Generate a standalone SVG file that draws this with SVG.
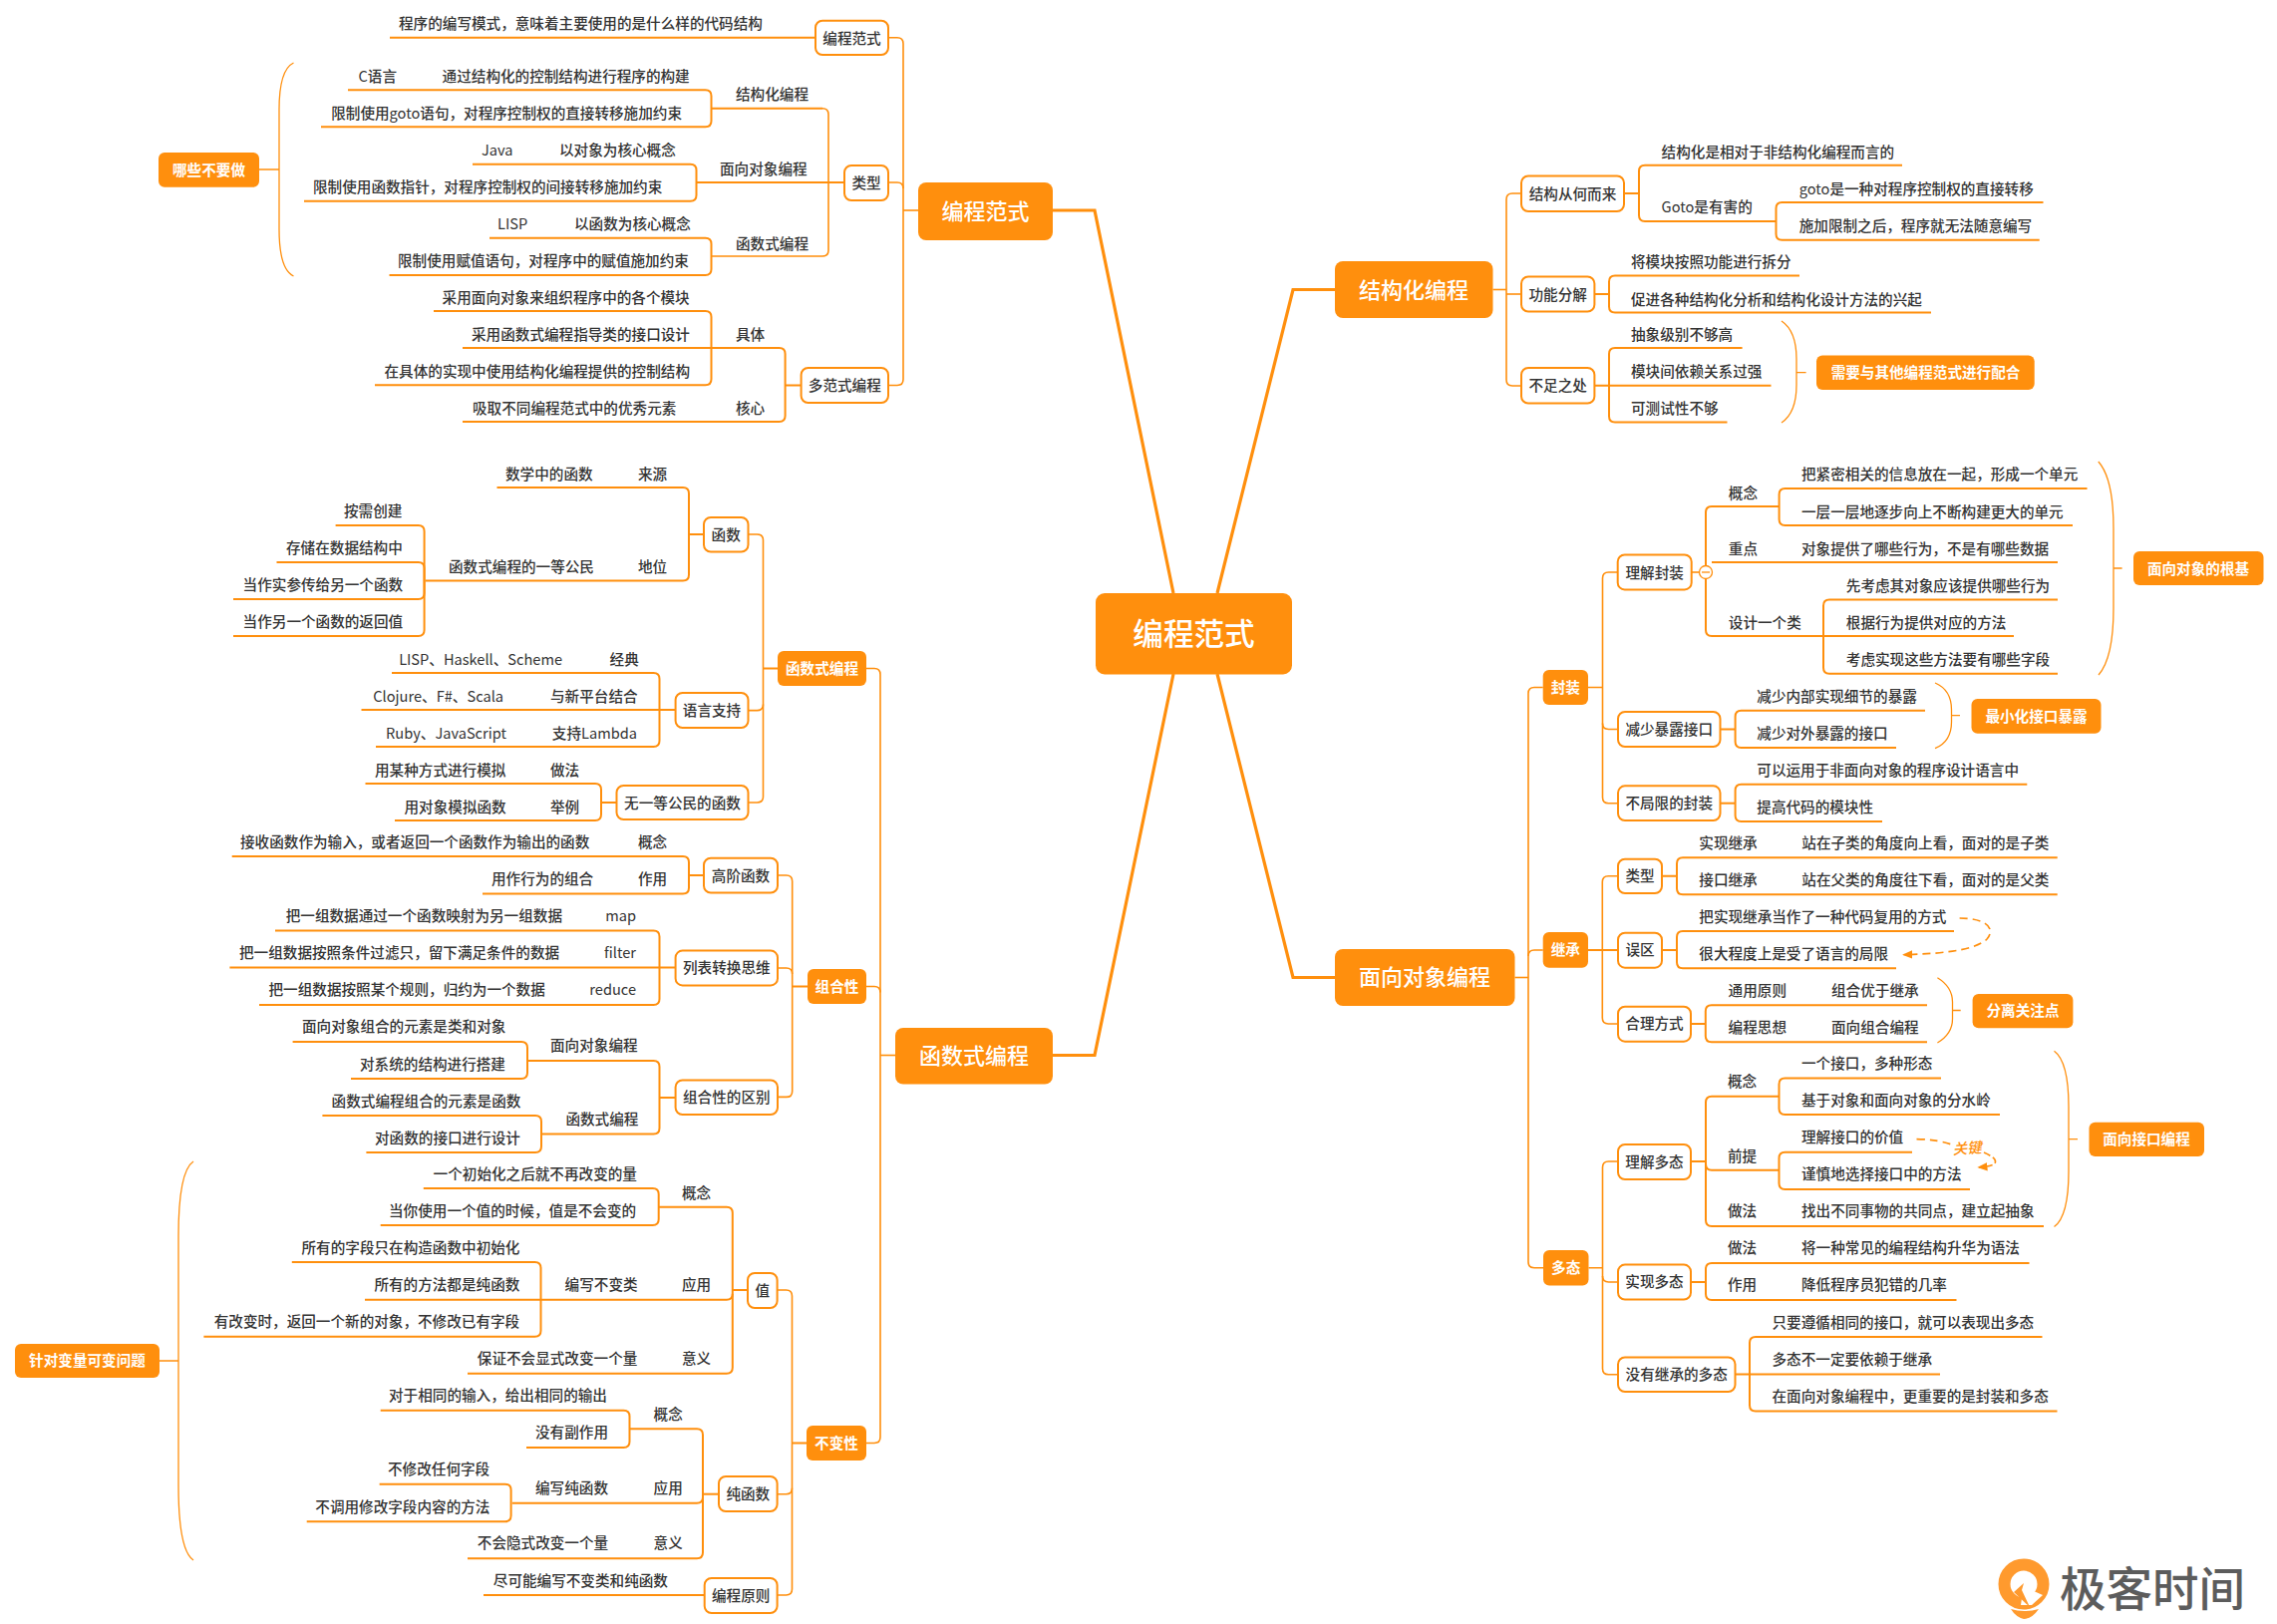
<svg xmlns="http://www.w3.org/2000/svg" width="2284" height="1629" viewBox="0 0 2284 1629">
<defs>
<marker id="ah" markerWidth="7" markerHeight="7" refX="5" refY="3" orient="auto"><path class="a" d="M0 0.5L6 3L0 5.5Z"/></marker>
</defs>
<style>
text{font-family:"Noto Sans CJK SC","Noto Sans",sans-serif;font-size:14.6px;fill:#333;font-weight:500}
tspan.L{font-weight:400}
.w{fill:#fff;font-weight:700}
.big{fill:#fff;font-size:22px;font-weight:500}
.root{fill:#fff;font-size:30.6px;font-weight:500}
path,line,circle{fill:none}
.a{fill:#ff8f0d;stroke:none}
.o{fill:#fff;stroke:#ff8f0d;stroke-width:2}
#connectors path{stroke:#ff8f0d;stroke-width:2}
#connectors .t{stroke-width:3.2}
#connectors .m{stroke-width:1.6}
#connectors .n{stroke-width:1.3}
#connectors .d{stroke-width:1.7;stroke-dasharray:8 5}
</style>
<rect width="2284" height="1629" fill="#fff"/>
<g id="connectors">
<!-- root -->
<path class="t" d="M1177 595L1098 211H1056"/>
<path class="t" d="M1221 595L1297 290.5H1339"/>
<path class="t" d="M1177 676L1098 1058.5H1056"/>
<path class="t" d="M1221 676L1297 980.5H1339"/>
<!-- 编程范式 branch -->
<path class="m" d="M921 211H906"/>
<path class="m" d="M891 37.7H900Q906 37.7 906 43.7V380.5Q906 386.5 900 386.5H891"/>
<path class="m" d="M891 183H900Q906 183 906 189"/>
<path d="M818 37.7H391"/>
<path class="m" d="M825 108.7Q831 108.7 831 114.7V251Q831 257 825 257H714"/>
<path d="M714 108.7H825"/>
<path d="M847 183H698.5"/>
<path d="M349 90.3H707.5Q713.5 90.3 713.5 96.3V121.3Q713.5 127.3 707.5 127.3H322"/>
<path d="M474 164.7H692.5Q698.5 164.7 698.5 170.7V195.7Q698.5 201.7 692.5 201.7H305"/>
<path d="M491 238.7H707.5Q713.5 238.7 713.5 244.7V270Q713.5 276 707.5 276H390.5"/>
<path d="M803.6 386.5H787.6"/>
<path d="M464 349H781.6Q787.6 349 787.6 355V417Q787.6 423 781.6 423H464"/>
<path d="M435 312H707.5Q713.5 312 713.5 318V380.3Q713.5 386.3 707.5 386.3H376"/>
<!-- 哪些不要做 -->
<path class="n" d="M260 170H280M294.5 63Q280 70 280 110V230Q280 270 294.5 277"/>
<!-- 函数式编程 branch -->
<path class="m" d="M898 1058.5H883"/>
<path class="m" d="M869 670.5H877Q883 670.5 883 676.5V1441.5Q883 1447.5 877 1447.5H869"/>
<path class="m" d="M869 989.5H877Q883 989.5 883 995.5"/>
<path d="M780 670.5H765.5"/>
<path class="m" d="M750.5 536H759.5Q765.5 536 765.5 542V799Q765.5 805 759.5 805H750.5"/>
<path class="m" d="M750.5 712.6H759.5Q765.5 712.6 765.5 706.6"/>
<path d="M706 536H691"/>
<path d="M498.5 489H685Q691 489 691 495V576.6Q691 582.6 685 582.6H426.7"/>
<path d="M336.6 527H419.6Q425.6 527 425.6 533V632Q425.6 638 419.6 638H234"/>
<path d="M277.5 564H419.6Q425.6 564 425.6 570V595Q425.6 601 419.6 601H234"/>
<path d="M393 675H655.5Q661.5 675 661.5 681V743Q661.5 749 655.5 749H377"/>
<path d="M362.5 712H677.6"/>
<path d="M366.5 786H597Q603 786 603 792V817Q603 823 597 823H396"/>
<path d="M618.5 805H603"/>
<!-- 组合性 -->
<path d="M810 989.5H794.7"/>
<path class="m" d="M780 878H788.7Q794.7 878 794.7 884V1094.4Q794.7 1100.4 788.7 1100.4H780"/>
<path class="m" d="M780 971H788.7Q794.7 971 794.7 977"/>
<path d="M706 878H691"/>
<path d="M232.7 859H685Q691 859 691 865V890.4Q691 896.4 685 896.4H484"/>
<path d="M276 933.5H655.5Q661.5 933.5 661.5 939.5V1002Q661.5 1008 655.5 1008H260"/>
<path d="M230.4 970.5H677.6"/>
<path d="M677.6 1101H661.5"/>
<path d="M530 1064H655.5Q661.5 1064 661.5 1070V1131.5Q661.5 1137.5 655.5 1137.5H544"/>
<path d="M293.6 1045H523Q529 1045 529 1051V1076Q529 1082 523 1082H352"/>
<path d="M323.4 1119H537Q543 1119 543 1125V1150Q543 1156 537 1156H367.4"/>
<!-- 不变性 -->
<path d="M809 1447.5H794.5"/>
<path class="m" d="M779.6 1294H788.5Q794.5 1294 794.5 1300V1594Q794.5 1600 788.5 1600H779.6"/>
<path class="m" d="M779.6 1498.7H788.5Q794.5 1498.7 794.5 1492.7"/>
<path d="M750 1294H734.8"/>
<path d="M661 1210.7H728.8Q734.8 1210.7 734.8 1216.7V1297.7Q734.8 1303.7 728.8 1303.7H542.5"/>
<path d="M734.8 1297.7V1371.7Q734.8 1377.7 728.8 1377.7H469"/>
<path d="M424.8 1192H654.7Q660.7 1192 660.7 1198V1223Q660.7 1229 654.7 1229H381.7"/>
<path d="M292.8 1266H536.5Q542.5 1266 542.5 1272V1334.7Q542.5 1340.7 536.5 1340.7H204.4"/>
<path d="M366 1303.7H542.5"/>
<path d="M721 1498.7H705"/>
<path d="M632 1433.3H699Q705 1433.3 705 1439.3V1501.7Q705 1507.7 699 1507.7H513.8"/>
<path d="M705 1501.7V1557.3Q705 1563.3 699 1563.3H469"/>
<path d="M381.7 1414.7H625.5Q631.5 1414.7 631.5 1420.7V1446Q631.5 1452 625.5 1452H528"/>
<path d="M380.6 1488.7H506.6Q512.6 1488.7 512.6 1494.7V1520.3Q512.6 1526.3 506.6 1526.3H307.7"/>
<path d="M706.7 1600H485"/>
<!-- 针对变量可变问题 -->
<path class="n" d="M160 1365H179M194 1165Q179 1175 179 1240V1490Q179 1555 194 1565"/>
<!-- 结构化编程 branch -->
<path class="m" d="M1497.5 290.5H1511"/>
<path class="m" d="M1526 194H1517Q1511 194 1511 200V381Q1511 387 1517 387H1526"/>
<path class="m" d="M1511 295H1526"/>
<path d="M1629 194H1644"/>
<path d="M1908 165.7H1650Q1644 165.7 1644 171.7V216Q1644 222 1650 222H1781.5"/>
<path d="M2049.5 203H1787.5Q1781.5 203 1781.5 209V234.7Q1781.5 240.7 1787.5 240.7H2045.7"/>
<path d="M1599.4 295H1614"/>
<path d="M1805 276.4H1620Q1614 276.4 1614 282.4V307.6Q1614 313.6 1620 313.6H1937"/>
<path d="M1747.6 349H1620Q1614 349 1614 355V417.6Q1614 423.6 1620 423.6H1732.5"/>
<path d="M1599.4 386.8H1776.5"/>
<path class="n" d="M1787 322Q1802 332 1802 360V386Q1802 414 1787 424M1802 373.6H1811.6"/>
<!-- 面向对象编程 branch -->
<path class="m" d="M1519.5 980.5H1533"/>
<path class="m" d="M1547.7 689.5H1539Q1533 689.5 1533 695.5V1265.7Q1533 1271.7 1539 1271.7H1548"/>
<path class="m" d="M1547.7 953H1539Q1533 953 1533 959"/>
<!-- 封装 -->
<path class="m" d="M1622.7 574H1613.5Q1607.5 574 1607.5 580V799.7Q1607.5 805.7 1613.5 805.7H1623"/>
<path class="m" d="M1593 689.5H1607.5M1607.5 725.5Q1607.5 731.5 1613.5 731.5H1623"/>
<path class="m" d="M1696.7 574H1704.5"/>
<path d="M1784.6 508H1717Q1711 508 1711 514V632Q1711 638 1717 638H1829"/>
<path d="M1717 564H2064"/>
<path d="M2093.5 490H1790.6Q1784.6 490 1784.6 496V521Q1784.6 527 1790.6 527H2079"/>
<path d="M2064 601.4H1835Q1829 601.4 1829 607.4V669.7Q1829 675.7 1835 675.7H2064"/>
<path d="M1829 638H2020"/>
<path class="n" d="M2104.8 463Q2120 480 2120 530V610Q2120 660 2105 677M2120 570H2128.6"/>
<path d="M1725.5 731.5H1740.6"/>
<path d="M1931 712.7H1746.6Q1740.6 712.7 1740.6 718.7V744Q1740.6 750 1746.6 750H1902"/>
<path class="n" d="M1941 685Q1957.5 692 1957.5 712V724Q1957.5 744 1941 750.7M1957.5 717.7H1966"/>
<path d="M1725.5 805.7H1740.6"/>
<path d="M2033.3 786.7H1746.6Q1740.6 786.7 1740.6 792.7V818Q1740.6 824 1746.6 824H1888"/>
<!-- 继承 -->
<path class="m" d="M1623 878.7H1613.3Q1607.3 878.7 1607.3 884.7V1021Q1607.3 1027 1613.3 1027H1623"/>
<path d="M1593 953H1623"/>
<path d="M1667 878.7H1682M1667 953H1682M1696 1027H1710.8"/>
<path d="M2063.7 860.3H1688Q1682 860.3 1682 866.3V891.3Q1682 897.3 1688 897.3H2063.7"/>
<path d="M1960 934H1688Q1682 934 1682 940V965.3Q1682 971.3 1688 971.3H1902"/>
<path d="M1933 1008.3H1716.8Q1710.8 1008.3 1710.8 1014.3V1039.3Q1710.8 1045.3 1716.8 1045.3H1933"/>
<path class="d" marker-end="url(#ah)" d="M1965.6 921C1990 921 2003 930 1993 942C1980 955 1935 957 1909.8 957.7"/>
<path class="n" d="M1943.4 980.7Q1958.5 990 1958.5 1005V1022Q1958.5 1037 1943.4 1046M1958.5 1013.5H1966.7"/>
<!-- 多态 -->
<path class="m" d="M1623 1165H1613.5Q1607.5 1165 1607.5 1171V1372.7Q1607.5 1378.7 1613.5 1378.7H1623"/>
<path class="m" d="M1593.5 1271.7H1607.5M1607.5 1280Q1607.5 1286 1613.5 1286H1623"/>
<path d="M1696 1165H1711"/>
<path d="M1784.5 1099.8H1717Q1711 1099.8 1711 1105.8V1224Q1711 1230 1717 1230H2050"/>
<path d="M1711 1167.8Q1711 1173.8 1717 1173.8H1784.5"/>
<path d="M1947 1081.4H1790.5Q1784.5 1081.4 1784.5 1087.4V1112Q1784.5 1118 1790.5 1118H2006"/>
<path d="M1918 1155.8H1790.5Q1784.5 1155.8 1784.5 1161.8V1187Q1784.5 1193 1790.5 1193H1976"/>
<path class="d" d="M1922.5 1142.6Q1945 1143 1960 1149"/>
<path class="d" marker-end="url(#ah)" d="M1990 1156Q2004 1162 2001 1167Q1998 1170 1985 1170.8" style="stroke-dasharray:7 3"/>
<path class="n" d="M2060.5 1054.3Q2075 1065 2075 1110V1175Q2075 1220 2060.5 1230.6M2075 1142.6H2084"/>
<path d="M1696 1286H1711"/>
<path d="M2035.5 1267H1717Q1711 1267 1711 1273V1298Q1711 1304 1717 1304H1962.5"/>
<path d="M2048.5 1341H1761Q1755 1341 1755 1347V1409.6Q1755 1415.6 1761 1415.6H2063.5"/>
<path d="M1740.5 1378.6H1946"/>
</g>

<!-- root & main -->
<g id="root"><rect x="1099" y="595" width="197" height="81.5" rx="9" fill="#ff8f0d"/><text class="root" x="1197.5" y="647" text-anchor="middle">编程范式</text></g>
<g id="m1"><rect x="921" y="183" width="135" height="58" rx="8" fill="#ff8f0d"/><text class="big" x="988.5" y="220" text-anchor="middle">编程范式</text></g>
<g id="m2"><rect x="898" y="1031" width="158" height="56.5" rx="8" fill="#ff8f0d"/><text class="big" x="977" y="1067" text-anchor="middle">函数式编程</text></g>
<g id="m3"><rect x="1339" y="262" width="158.5" height="57" rx="8" fill="#ff8f0d"/><text class="big" x="1418" y="298.5" text-anchor="middle">结构化编程</text></g>
<g id="m4"><rect x="1339" y="952" width="180.5" height="57" rx="8" fill="#ff8f0d"/><text class="big" x="1429" y="988" text-anchor="middle">面向对象编程</text></g>

<!-- filled small -->
<g id="f1"><rect x="159" y="153" width="101" height="34.7" rx="6" fill="#ff8f0d"/><text class="w" x="209.5" y="175.5" text-anchor="middle">哪些不要做</text></g>
<g id="f2"><rect x="780" y="653" width="89" height="35" rx="6" fill="#ff8f0d"/><text class="w" x="824.5" y="676" text-anchor="middle">函数式编程</text></g>
<g id="f3"><rect x="810" y="972" width="59" height="35" rx="6" fill="#ff8f0d"/><text class="w" x="839.5" y="994.5" text-anchor="middle">组合性</text></g>
<g id="f4"><rect x="809" y="1430" width="60" height="35" rx="6" fill="#ff8f0d"/><text class="w" x="839" y="1452.5" text-anchor="middle">不变性</text></g>
<g id="f5"><rect x="15" y="1348" width="145" height="34" rx="6" fill="#ff8f0d"/><text class="w" x="87.5" y="1370" text-anchor="middle">针对变量可变问题</text></g>
<g id="f6"><rect x="1822" y="356.4" width="218.7" height="34.6" rx="6" fill="#ff8f0d"/><text class="w" x="1931.5" y="379" text-anchor="middle">需要与其他编程范式进行配合</text></g>
<g id="f7"><rect x="2140" y="553" width="130.5" height="34" rx="6" fill="#ff8f0d"/><text class="w" x="2205" y="576" text-anchor="middle">面向对象的根基</text></g>
<g id="f8"><rect x="1977.5" y="701" width="130" height="34.7" rx="6" fill="#ff8f0d"/><text class="w" x="2042.5" y="723.5" text-anchor="middle">最小化接口暴露</text></g>
<g id="f9"><rect x="1978.6" y="997" width="100.8" height="34.3" rx="6" fill="#ff8f0d"/><text class="w" x="2029" y="1019" text-anchor="middle">分离关注点</text></g>
<g id="f10"><rect x="2095.5" y="1125.7" width="115.5" height="34.3" rx="6" fill="#ff8f0d"/><text class="w" x="2153" y="1148" text-anchor="middle">面向接口编程</text></g>
<g id="f11"><rect x="1547.7" y="672" width="45.3" height="35" rx="6" fill="#ff8f0d"/><text class="w" x="1570.3" y="694.5" text-anchor="middle">封装</text></g>
<g id="f12"><rect x="1547.7" y="935" width="45.3" height="35.7" rx="6" fill="#ff8f0d"/><text class="w" x="1570.3" y="958" text-anchor="middle">继承</text></g>
<g id="f13"><rect x="1548" y="1254" width="45.5" height="35.6" rx="6" fill="#ff8f0d"/><text class="w" x="1570.7" y="1277" text-anchor="middle">多态</text></g>

<!-- outlined -->
<g id="o1"><rect class="o" x="818" y="20.7" width="73" height="34.3" rx="7"/><text x="854.5" y="44" text-anchor="middle">编程范式</text></g>
<g id="o2"><rect class="o" x="847" y="166" width="44" height="35" rx="7"/><text x="869" y="188.5" text-anchor="middle">类型</text></g>
<g id="o3"><rect class="o" x="803.6" y="369" width="87.4" height="35" rx="7"/><text x="847.3" y="391.5" text-anchor="middle">多范式编程</text></g>
<g id="o4"><rect class="o" x="706" y="519" width="44.5" height="34.6" rx="7"/><text x="728.2" y="541.5" text-anchor="middle">函数</text></g>
<g id="o5"><rect class="o" x="677.6" y="695" width="72.9" height="35" rx="7"/><text x="714" y="717.5" text-anchor="middle">语言支持</text></g>
<g id="o6"><rect class="o" x="618.5" y="788" width="132" height="34" rx="7"/><text x="684.5" y="811" text-anchor="middle">无一等公民的函数</text></g>
<g id="o7"><rect class="o" x="706" y="860.7" width="74" height="34.8" rx="7"/><text x="743" y="884" text-anchor="middle">高阶函数</text></g>
<g id="o8"><rect class="o" x="677.6" y="953.6" width="102.4" height="34.8" rx="7"/><text x="728.8" y="976" text-anchor="middle">列表转换思维</text></g>
<g id="o9"><rect class="o" x="677.6" y="1083.5" width="102.4" height="34.5" rx="7"/><text x="728.8" y="1106" text-anchor="middle">组合性的区别</text></g>
<g id="o10"><rect class="o" x="750" y="1277" width="29.6" height="35" rx="7"/><text x="764.8" y="1299.5" text-anchor="middle">值</text></g>
<g id="o11"><rect class="o" x="721" y="1481" width="58.6" height="35" rx="7"/><text x="750.3" y="1503.5" text-anchor="middle">纯函数</text></g>
<g id="o12"><rect class="o" x="706.7" y="1583" width="72.9" height="35" rx="7"/><text x="743.2" y="1605.5" text-anchor="middle">编程原则</text></g>
<g id="o13"><rect class="o" x="1526" y="176.4" width="103" height="35.6" rx="7"/><text x="1577.5" y="200" text-anchor="middle">结构从何而来</text></g>
<g id="o14"><rect class="o" x="1526" y="277.5" width="73.4" height="35" rx="7"/><text x="1562.7" y="300.5" text-anchor="middle">功能分解</text></g>
<g id="o15"><rect class="o" x="1526" y="369" width="73.4" height="35.6" rx="7"/><text x="1562.7" y="392" text-anchor="middle">不足之处</text></g>
<g id="o16"><rect class="o" x="1622.7" y="556.4" width="74" height="35" rx="7"/><text x="1659.7" y="579.5" text-anchor="middle">理解封装</text></g>
<g id="o17"><rect class="o" x="1623" y="714" width="102.5" height="35" rx="7"/><text x="1674.2" y="736.5" text-anchor="middle">减少暴露接口</text></g>
<g id="o18"><rect class="o" x="1623" y="788.3" width="102.5" height="34.7" rx="7"/><text x="1674.2" y="810.5" text-anchor="middle">不局限的封装</text></g>
<g id="o19"><rect class="o" x="1623" y="861.7" width="44" height="34.3" rx="7"/><text x="1645" y="884" text-anchor="middle">类型</text></g>
<g id="o20"><rect class="o" x="1623" y="935.7" width="44" height="35" rx="7"/><text x="1645" y="958" text-anchor="middle">误区</text></g>
<g id="o21"><rect class="o" x="1623" y="1009.7" width="73" height="35" rx="7"/><text x="1659.5" y="1032" text-anchor="middle">合理方式</text></g>
<g id="o22"><rect class="o" x="1623" y="1148" width="73" height="35" rx="7"/><text x="1659.5" y="1170.5" text-anchor="middle">理解多态</text></g>
<g id="o23"><rect class="o" x="1623" y="1268.6" width="73" height="34.9" rx="7"/><text x="1659.5" y="1291" text-anchor="middle">实现多态</text></g>
<g id="o24"><rect class="o" x="1623" y="1361.4" width="117.5" height="34.6" rx="7"/><text x="1681.7" y="1384" text-anchor="middle">没有继承的多态</text></g>
<g id="collapse"><circle cx="1711" cy="574" r="6.5" stroke="#ff8f0d" stroke-width="1.3" style="fill:#fff"/><path d="M1707 574H1715" stroke="#ff8f0d" stroke-width="1.3"/></g>

<!-- leaf labels -->
<g id="leaves">
<g id="l1"><text x="400" y="29">程序的编写模式，意味着主要使用的是什么样的代码结构</text></g>
<g id="l2"><text x="738" y="100">结构化编程</text></g>
<g id="l3"><text x="398" y="82" text-anchor="end"><tspan class="L">C</tspan>语言</text></g>
<g id="l4"><text x="443.6" y="82">通过结构化的控制结构进行程序的构建</text></g>
<g id="l5"><text x="684" y="119" text-anchor="end">限制使用<tspan class="L">goto</tspan>语句，对程序控制权的直接转移施加约束</text></g>
<g id="l6"><text x="722" y="175">面向对象编程</text></g>
<g id="l7"><text x="483" y="156"><tspan class="L">Java</tspan></text></g>
<g id="l8"><text x="561" y="156">以对象为核心概念</text></g>
<g id="l9"><text x="314" y="193">限制使用函数指针，对程序控制权的间接转移施加约束</text></g>
<g id="l10"><text x="738" y="249.5">函数式编程</text></g>
<g id="l11"><text x="499" y="230"><tspan class="L">LISP</tspan></text></g>
<g id="l12"><text x="576" y="230">以函数为核心概念</text></g>
<g id="l13"><text x="399" y="267">限制使用赋值语句，对程序中的赋值施加约束</text></g>
<g id="l14"><text x="738" y="341">具体</text></g>
<g id="l15"><text x="443.6" y="303.5">采用面向对象来组织程序中的各个模块</text></g>
<g id="l16"><text x="473" y="340.5">采用函数式编程指导类的接口设计</text></g>
<g id="l17"><text x="385.5" y="378">在具体的实现中使用结构化编程提供的控制结构</text></g>
<g id="l18"><text x="738" y="415">核心</text></g>
<g id="l19"><text x="474" y="415">吸取不同编程范式中的优秀元素</text></g>

<g id="l20"><text x="640" y="481">来源</text></g>
<g id="l21"><text x="507" y="481">数学中的函数</text></g>
<g id="l22"><text x="640" y="574">地位</text></g>
<g id="l23"><text x="450" y="574">函数式编程的一等公民</text></g>
<g id="l24"><text x="345" y="517.5">按需创建</text></g>
<g id="l25"><text x="287" y="555">存储在数据结构中</text></g>
<g id="l26"><text x="243.6" y="592">当作实参传给另一个函数</text></g>
<g id="l27"><text x="243.6" y="629">当作另一个函数的返回值</text></g>
<g id="l28"><text x="611.6" y="666.6">经典</text></g>
<g id="l29"><text x="564" y="666.6" text-anchor="end"><tspan class="L">LISP</tspan>、<tspan class="L">Haskell</tspan>、<tspan class="L">Scheme</tspan></text></g>
<g id="l30"><text x="552" y="704">与新平台结合</text></g>
<g id="l31"><text x="505" y="704" text-anchor="end"><tspan class="L">Clojure</tspan>、<tspan class="L">F#</tspan>、<tspan class="L">Scala</tspan></text></g>
<g id="l32"><text x="639" y="741" text-anchor="end">支持<tspan class="L">Lambda</tspan></text></g>
<g id="l33"><text x="508" y="741" text-anchor="end"><tspan class="L">Ruby</tspan>、<tspan class="L">JavaScript</tspan></text></g>
<g id="l34"><text x="552" y="778">做法</text></g>
<g id="l35"><text x="376" y="778">用某种方式进行模拟</text></g>
<g id="l36"><text x="552" y="815">举例</text></g>
<g id="l37"><text x="405.5" y="815">用对象模拟函数</text></g>
<g id="l38"><text x="640" y="850">概念</text></g>
<g id="l39"><text x="241" y="850">接收函数作为输入，或者返回一个函数作为输出的函数</text></g>
<g id="l40"><text x="640" y="886.5">作用</text></g>
<g id="l41"><text x="493" y="886.5">用作行为的组合</text></g>
<g id="l42"><text x="638" y="923.7" text-anchor="end"><tspan class="L">map</tspan></text></g>
<g id="l43"><text x="286.7" y="923.7">把一组数据通过一个函数映射为另一组数据</text></g>
<g id="l44"><text x="638" y="961" text-anchor="end"><tspan class="L">filter</tspan></text></g>
<g id="l45"><text x="240" y="961">把一组数据按照条件过滤只，留下满足条件的数据</text></g>
<g id="l46"><text x="638" y="998" text-anchor="end"><tspan class="L">reduce</tspan></text></g>
<g id="l47"><text x="269.5" y="998">把一组数据按照某个规则，归约为一个数据</text></g>
<g id="l48"><text x="552" y="1054">面向对象编程</text></g>
<g id="l49"><text x="303" y="1035">面向对象组合的元素是类和对象</text></g>
<g id="l50"><text x="361" y="1073">对系统的结构进行搭建</text></g>
<g id="l51"><text x="567.4" y="1128">函数式编程</text></g>
<g id="l52"><text x="332.6" y="1110">函数式编程组合的元素是函数</text></g>
<g id="l53"><text x="376" y="1147">对函数的接口进行设计</text></g>

<g id="l54"><text x="684" y="1201.7">概念</text></g>
<g id="l55"><text x="434.6" y="1183">一个初始化之后就不再改变的量</text></g>
<g id="l56"><text x="390" y="1220">当你使用一个值的时候，值是不会变的</text></g>
<g id="l57"><text x="684" y="1294">应用</text></g>
<g id="l58"><text x="566.6" y="1294">编写不变类</text></g>
<g id="l59"><text x="302.5" y="1256.7">所有的字段只在构造函数中初始化</text></g>
<g id="l60"><text x="375.4" y="1294">所有的方法都是纯函数</text></g>
<g id="l61"><text x="214.7" y="1331">有改变时，返回一个新的对象，不修改已有字段</text></g>
<g id="l62"><text x="684" y="1367.7">意义</text></g>
<g id="l63"><text x="478.8" y="1367.7">保证不会显式改变一个量</text></g>
<g id="l64"><text x="655.6" y="1423.7">概念</text></g>
<g id="l65"><text x="390" y="1405">对于相同的输入，给出相同的输出</text></g>
<g id="l66"><text x="537" y="1442">没有副作用</text></g>
<g id="l67"><text x="655.6" y="1497.7">应用</text></g>
<g id="l68"><text x="537" y="1497.7">编写纯函数</text></g>
<g id="l69"><text x="389" y="1479">不修改任何字段</text></g>
<g id="l70"><text x="316.3" y="1516.7">不调用修改字段内容的方法</text></g>
<g id="l71"><text x="655.6" y="1553.3">意义</text></g>
<g id="l72"><text x="478.8" y="1553.3">不会隐式改变一个量</text></g>
<g id="l73"><text x="494.8" y="1590.7">尽可能编写不变类和纯函数</text></g>

<g id="r1"><text x="1666.6" y="158">结构化是相对于非结构化编程而言的</text></g>
<g id="r2"><text x="1666.6" y="212.5"><tspan class="L">Goto</tspan>是有害的</text></g>
<g id="r3"><text x="1804.7" y="194.6"><tspan class="L">goto</tspan>是一种对程序控制权的直接转移</text></g>
<g id="r4"><text x="1804.7" y="231.8">施加限制之后，程序就无法随意编写</text></g>
<g id="r5"><text x="1636" y="268">将模块按照功能进行拆分</text></g>
<g id="r6"><text x="1636" y="305.5">促进各种结构化分析和结构化设计方法的兴起</text></g>
<g id="r7"><text x="1636" y="341">抽象级别不够高</text></g>
<g id="r8"><text x="1636" y="378">模块间依赖关系过强</text></g>
<g id="r9"><text x="1636" y="414.6">可测试性不够</text></g>
<g id="r10"><text x="1733.8" y="500">概念</text></g>
<g id="r11"><text x="1807" y="481">把紧密相关的信息放在一起，形成一个单元</text></g>
<g id="r12"><text x="1807" y="519">一层一层地逐步向上不断构建更大的单元</text></g>
<g id="r13"><text x="1733.8" y="556">重点</text></g>
<g id="r14"><text x="1807" y="556">对象提供了哪些行为，不是有哪些数据</text></g>
<g id="r15"><text x="1733.8" y="630">设计一个类</text></g>
<g id="r16"><text x="1851.8" y="593">先考虑其对象应该提供哪些行为</text></g>
<g id="r17"><text x="1851.8" y="630">根据行为提供对应的方法</text></g>
<g id="r18"><text x="1851.8" y="667">考虑实现这些方法要有哪些字段</text></g>
<g id="r19"><text x="1762.3" y="704">减少内部实现细节的暴露</text></g>
<g id="r20"><text x="1762.3" y="741">减少对外暴露的接口</text></g>
<g id="r21"><text x="1762.3" y="778">可以运用于非面向对象的程序设计语言中</text></g>
<g id="r22"><text x="1762.3" y="815">提高代码的模块性</text></g>
<g id="r23"><text x="1704.3" y="850.5">实现继承</text></g>
<g id="r24"><text x="1807.3" y="850.5">站在子类的角度向上看，面对的是子类</text></g>
<g id="r25"><text x="1704.3" y="887.5">接口继承</text></g>
<g id="r26"><text x="1807.3" y="887.5">站在父类的角度往下看，面对的是父类</text></g>
<g id="r27"><text x="1704.3" y="925">把实现继承当作了一种代码复用的方式</text></g>
<g id="r28"><text x="1704.3" y="962">很大程度上是受了语言的局限</text></g>
<g id="r29"><text x="1733.6" y="998.7">通用原则</text></g>
<g id="r30"><text x="1837" y="998.7">组合优于继承</text></g>
<g id="r31"><text x="1733.6" y="1035.7">编程思想</text></g>
<g id="r32"><text x="1837" y="1035.7">面向组合编程</text></g>
<g id="r33"><text x="1733" y="1089.7">概念</text></g>
<g id="r34"><text x="1807" y="1071.7">一个接口，多种形态</text></g>
<g id="r35"><text x="1807" y="1109">基于对象和面向对象的分水岭</text></g>
<g id="r36"><text x="1733" y="1165">前提</text></g>
<g id="r37"><text x="1807" y="1145.8">理解接口的价值</text></g>
<g id="r38"><text x="1807" y="1183">谨慎地选择接口中的方法</text></g>
<g id="r39"><text x="1733" y="1220">做法</text></g>
<g id="r40"><text x="1807" y="1220">找出不同事物的共同点，建立起抽象</text></g>
<g id="r41"><text x="1733" y="1257">做法</text></g>
<g id="r42"><text x="1807" y="1257">将一种常见的编程结构升华为语法</text></g>
<g id="r43"><text x="1733" y="1294">作用</text></g>
<g id="r44"><text x="1807" y="1294">降低程序员犯错的几率</text></g>
<g id="r45"><text x="1777.5" y="1332">只要遵循相同的接口，就可以表现出多态</text></g>
<g id="r46"><text x="1777.5" y="1369.4">多态不一定要依赖于继承</text></g>
<g id="r47"><text x="1777.5" y="1406">在面向对象编程中，更重要的是封装和多态</text></g>
<g id="key"><text x="1959" y="1158" transform="rotate(-4 1959 1158)" style="fill:#ff8f0d;font-style:italic">关键</text></g>
</g>

<g id="logo">
<circle cx="2030" cy="1589" r="19.5" stroke="#ff9a2e" stroke-width="12" style="fill:#fff"/>
<path d="M2030 1589L2027 1610H2038L2049 1600L2040 1596L2039 1589Z" style="fill:#fff;stroke:none"/>
<path d="M2030 1588L2020 1597L2036 1612L2028 1595Z" style="fill:#ff9a2e"/>
<path d="M2017 1614Q2030 1618 2045 1614Q2038 1624 2030 1624Q2022 1622 2017 1614Z" style="fill:#ff9a2e"/>
<text x="2066" y="1611" style="font-size:46.5px;fill:#5c5c5c;font-weight:500">极客时间</text>
</g>
</svg>
